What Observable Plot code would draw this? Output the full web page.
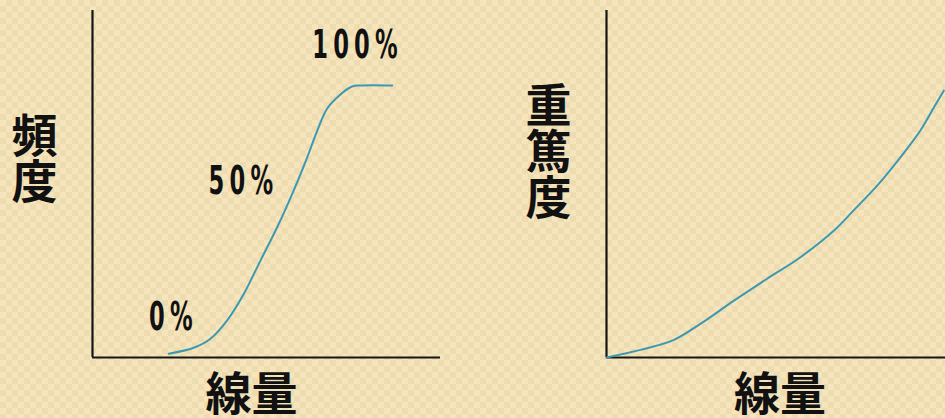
<!DOCTYPE html>
<html>
<head>
<meta charset="utf-8">
<script src="https://cdn.jsdelivr.net/npm/d3@7"></script>
<script src="https://cdn.jsdelivr.net/npm/@observablehq/plot@0.6"></script>
<style>
  html, body { margin: 0; padding: 0; }
  body {
    width: 945px; height: 418px; overflow: hidden;
    background-color: #f6e5bc;
    background-image:
      linear-gradient(45deg, #eedcb1 25%, transparent 25%, transparent 75%, #eedcb1 75%),
      linear-gradient(45deg, #eedcb1 25%, transparent 25%, transparent 75%, #eedcb1 75%);
    background-size: 12px 12px;
    background-position: 0 0, 6px 6px;
  }
  #wrap { display: flex; width: 945px; height: 418px; }
  #wrap svg { background: transparent !important; overflow: visible; }
</style>
</head>
<body>
<div id="wrap"></div>
<script>
// Left panel: frequency (S-curve) vs dose
const freqX = [21.9, 29.1, 33.9, 38.7, 43.5, 48.3, 53.1, 57.8, 61.7, 64.6, 67.4, 71.0, 74.6, 77.0, 86.1];
const freqY = [1.1, 2.8, 5.4, 10.7, 18.4, 28.0, 37.6, 48.1, 57.7, 65.4, 71.7, 75.6, 78.1, 78.4, 78.4];
const pctLabels = ["0%", "50%", "100%"];
const pctX = [22.4, 42.5, 75.3];
const pctY = [7.8, 47.0, 86.2];

// Right panel: severity vs dose
const sevX = [0, 10.0, 19.9, 27.7, 37.6, 47.4, 57.2, 67.1, 72.9, 79.9, 86.7, 92.6, 96.6, 99.5];
const sevY = [0, 2.2, 5.1, 9.7, 16.4, 22.7, 28.9, 36.6, 42.4, 49.6, 57.7, 65.4, 72.1, 76.9];

const xTitle = "線量";
const yTitleLeft = "頻\n度";
const yTitleRight = "重\n篤\n度";

const curveColor = "#3d98b1";
const axisColor = "#151515";
const cjk = "'Noto Sans CJK JP', 'Noto Sans CJK SC', sans-serif";
const narrow = "'DejaVu Sans', sans-serif";

const freq = freqX.map((x, i) => ({x, y: freqY[i]}));
const sev = sevX.map((x, i) => ({x, y: sevY[i]}));
const pcts = pctLabels.map((t, i) => ({t, x: pctX[i], y: pctY[i]}));

const left = Plot.plot({
  width: 470, height: 418,
  marginLeft: 92, marginRight: 30, marginTop: 10, marginBottom: 61,
  x: {domain: [0, 100], axis: null},
  y: {domain: [0, 100], axis: null},
  style: {background: "transparent", overflow: "visible"},
  marks: [
    Plot.ruleX([0], {stroke: axisColor, strokeWidth: 2.2}),
    Plot.ruleY([0], {stroke: axisColor, strokeWidth: 2.2}),
    Plot.line(freq, {x: "x", y: "y", stroke: curveColor, strokeWidth: 2, curve: "catmull-rom"}),
    Plot.text(pcts, {x: "x", y: "y", text: "t", fontFamily: narrow, fontSize: 39, fontWeight: 600,
      lineAnchor: "bottom", textAnchor: "middle", fill: "#111", dx: 3}),
    Plot.text([yTitleLeft], {frameAnchor: "left", dx: -58, dy: -24, fontFamily: cjk, fontWeight: "bold",
      fontSize: 46, lineHeight: 1.0, fill: "#111", textAnchor: "middle"}),
    Plot.text([xTitle], {frameAnchor: "bottom", dx: -15, dy: 38, fontFamily: cjk, fontWeight: "bold",
      fontSize: 46, fill: "#111", lineAnchor: "middle"})
  ]
});

// condense the percentage labels horizontally around their anchor and space the glyphs
left.querySelectorAll("text").forEach(t => {
  if (!/%$/.test(t.textContent)) return;
  t.style.letterSpacing = "9px";
  t.style.fontSize = "39px";
  const tr = t.getAttribute("transform");
  if (tr) {
    t.setAttribute("transform", tr + " scale(0.58,1)");
  } else {
    const x = t.getAttribute("x") || 0, y = t.getAttribute("y") || 0;
    t.removeAttribute("x"); t.removeAttribute("y");
    t.setAttribute("transform", `translate(${x},${y}) scale(0.58,1)`);
  }
});

const right = Plot.plot({
  width: 475, height: 418,
  marginLeft: 136, marginRight: 0, marginTop: 10, marginBottom: 61,
  x: {domain: [0, 100], axis: null},
  y: {domain: [0, 100], axis: null},
  style: {background: "transparent", overflow: "visible"},
  marks: [
    Plot.ruleX([0], {stroke: axisColor, strokeWidth: 2.2}),
    Plot.ruleY([0], {stroke: axisColor, strokeWidth: 2.2}),
    Plot.line(sev, {x: "x", y: "y", stroke: curveColor, strokeWidth: 2, curve: "catmull-rom"}),
    Plot.text([yTitleRight], {frameAnchor: "left", dx: -58, dy: -31, fontFamily: cjk, fontWeight: "bold",
      fontSize: 46, lineHeight: 1.0, fill: "#111", textAnchor: "middle"}),
    Plot.text([xTitle], {frameAnchor: "bottom", dx: 4, dy: 38, fontFamily: cjk, fontWeight: "bold",
      fontSize: 46, fill: "#111", lineAnchor: "middle"})
  ]
});

document.getElementById("wrap").append(left, right);
</script>
</body>
</html>
